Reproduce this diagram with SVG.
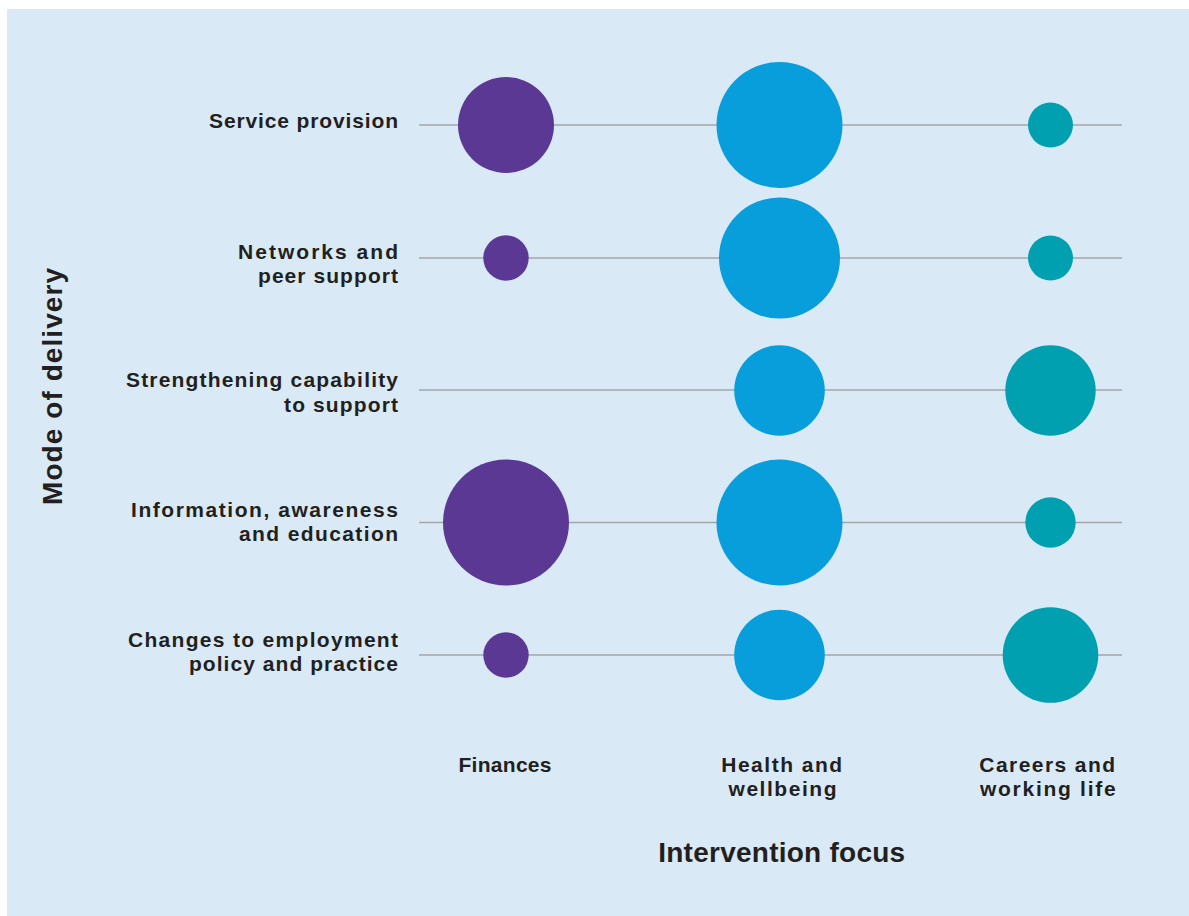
<svg xmlns="http://www.w3.org/2000/svg" width="1189" height="916" viewBox="0 0 1189 916">
<style>
.lbl{font-family:"Liberation Sans",Arial,sans-serif;font-weight:bold;font-size:21px;fill:#231f20}
.row{text-anchor:end}
.col{text-anchor:middle}
.axis{font-family:"Liberation Sans",Arial,sans-serif;font-weight:bold;font-size:28px;fill:#231f20;text-anchor:middle}
.grid{stroke:#a3a6aa;stroke-width:1.6}
.fin{fill:#5b3893}
.hea{fill:#089ddb}
.car{fill:#00a0b0}
</style>
<rect x="0" y="0" width="1189" height="916" fill="#ffffff"/>
<rect x="7" y="9" width="1182" height="907" fill="#d9eaf6"/>
<g id="connectors">
<line class="grid" x1="419" y1="125" x2="1122" y2="125"/>
<line class="grid" x1="419" y1="258" x2="1122" y2="258"/>
<line class="grid" x1="419" y1="390" x2="1122" y2="390"/>
<line class="grid" x1="419" y1="522.5" x2="1122" y2="522.5"/>
<line class="grid" x1="419" y1="655" x2="1122" y2="655"/>
</g>
<g id="row-labels">
<text class="lbl row" x="398" y="128" textLength="189" lengthAdjust="spacing">Service provision</text>
<text class="lbl row" x="398" y="258.5" textLength="160" lengthAdjust="spacing">Networks and</text>
<text class="lbl row" x="398" y="283" textLength="140" lengthAdjust="spacing">peer support</text>
<text class="lbl row" x="398" y="387" textLength="272" lengthAdjust="spacing">Strengthening capability</text>
<text class="lbl row" x="398" y="411.5" textLength="114" lengthAdjust="spacing">to support</text>
<text class="lbl row" x="398" y="516.5" textLength="267" lengthAdjust="spacing">Information, awareness</text>
<text class="lbl row" x="398" y="541" textLength="159" lengthAdjust="spacing">and education</text>
<text class="lbl row" x="398" y="646.5" textLength="270" lengthAdjust="spacing">Changes to employment</text>
<text class="lbl row" x="398" y="670.5" textLength="209" lengthAdjust="spacing">policy and practice</text>
</g>
<g id="col-labels">
<text class="lbl col" x="505" y="772" textLength="93" lengthAdjust="spacing">Finances</text>
<text class="lbl col" x="781.7" y="772" textLength="121" lengthAdjust="spacing">Health and</text>
<text class="lbl col" x="782.5" y="796" textLength="108" lengthAdjust="spacing">wellbeing</text>
<text class="lbl col" x="1047.2" y="772" textLength="135.7" lengthAdjust="spacing">Careers and</text>
<text class="lbl col" x="1047.8" y="796" textLength="135.7" lengthAdjust="spacing">working life</text>
</g>
<g id="axis-titles">
<text class="axis" x="781.7" y="862" textLength="247" lengthAdjust="spacing">Intervention focus</text>
<text class="axis" transform="translate(61.5,386.5) rotate(-90)" x="0" y="0" textLength="237" lengthAdjust="spacing">Mode of delivery</text>
</g>
<g id="node-r1-finances"><circle class="fin" cx="506" cy="125" r="48"/></g>
<g id="node-r1-health"><circle class="hea" cx="779.5" cy="125" r="63"/></g>
<g id="node-r1-careers"><circle class="car" cx="1050.5" cy="125" r="22.5"/></g>
<g id="node-r2-finances"><circle class="fin" cx="506" cy="258" r="22.7"/></g>
<g id="node-r2-health"><circle class="hea" cx="779.5" cy="258" r="60.5"/></g>
<g id="node-r2-careers"><circle class="car" cx="1050.5" cy="258" r="22.5"/></g>
<g id="node-r3-health"><circle class="hea" cx="779.5" cy="390.5" r="45.3"/></g>
<g id="node-r3-careers"><circle class="car" cx="1050.5" cy="390.5" r="45.2"/></g>
<g id="node-r4-finances"><circle class="fin" cx="506" cy="522.5" r="63"/></g>
<g id="node-r4-health"><circle class="hea" cx="779.5" cy="522.5" r="63"/></g>
<g id="node-r4-careers"><circle class="car" cx="1050.5" cy="522.5" r="25.2"/></g>
<g id="node-r5-finances"><circle class="fin" cx="506" cy="655" r="22.7"/></g>
<g id="node-r5-health"><circle class="hea" cx="779.5" cy="655" r="45.3"/></g>
<g id="node-r5-careers"><circle class="car" cx="1050.5" cy="655" r="47.8"/></g>
</svg>
